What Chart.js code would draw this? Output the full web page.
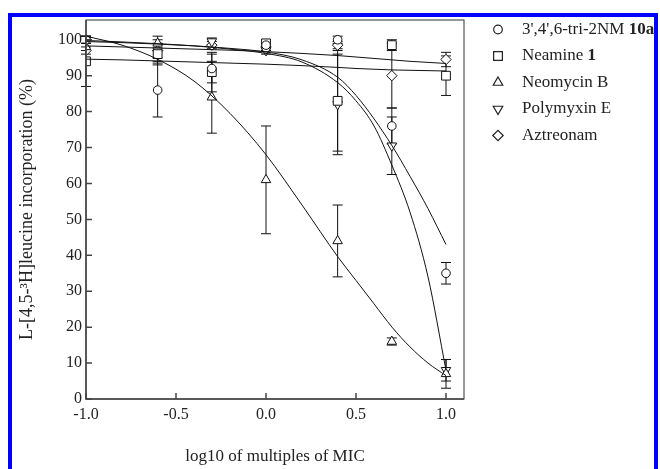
<!DOCTYPE html>
<html>
<head>
<meta charset="utf-8">
<script src="https://cdn.jsdelivr.net/npm/chart.js@4"></script>
<style>
  body { margin: 0; background: #fff; }
  #wrap { position: relative; width: 660px; height: 469px; overflow: hidden; }
  #frame { position: absolute; left: 8px; top: 13px; width: 642px; height: 500px; border: 4.5px solid #0000ff; pointer-events: none; }
</style>
</head>
<body>
<div id="wrap">
  <canvas id="chart" width="660" height="469"></canvas>
  <div id="frame"></div>
</div>
<script>
// 측정 농도 (log10 배수 MIC)
const doseX = [-1.0, -0.602, -0.301, 0.0, 0.398, 0.699, 1.0];

const seriesNames = ["3',4',6-tri-2NM ", "Neamine ", "Neomycin B", "Polymyxin E", "Aztreonam"];
const seriesBold = ["10a", "1", "", "", ""];

// 측정값 (%)
const tri2nm = [100, 86, 92, 98.5, 100, 76, 35];
const tri2nmErr = [1, 7.5, 4, 1, 1, 5, 3];
const neamine = [94, 96, 91, 99, 83, 98.5, 90];
const neamineErr = [7, 3, 5.5, 1, 14, 1.5, 5.5];
const neomycin = [98, 99, 84, 61, 44, 16, 7];
const neomycinErr = [1, 2, 10, 15, 10, 1, 4];
const polymyxin = [100, 97, 99.5, 97, 82, 70.5, 8];
const polymyxinErr = [1, 3, 1, 1, 14, 8, 3];
const aztreonam = [97, 97, 98.5, 98, 98.5, 90, 94.5];
const aztreonamErr = [1, 2, 1, 1, 1, 9, 2];

// 피팅 곡선
const fitX = [-1.0, -0.8, -0.6, -0.4, -0.2, 0.0, 0.2, 0.4, 0.5, 0.6, 0.7, 0.8, 0.9, 1.0];
const fitTri2nm = [99.5, 99.2, 98.8, 98.3, 97.6, 96.6, 94.4, 89.5, 84.5, 78, 70.5, 62, 53, 43];
const fitNeamine = [94.6, 94.4, 94.1, 93.8, 93.5, 93.2, 92.8, 92.3, 92.0, 91.8, 91.6, 91.5, 91.4, 91.3];
const fitNeomycin = [101, 98.5, 94.5, 88.5, 79.5, 68, 54, 39.5, 33, 26.5, 20, 14.5, 10, 6.5];
const fitPolymyxin = [99.8, 99.4, 98.9, 98.3, 97.4, 96.2, 93.8, 88, 83, 76, 65, 52, 34, 8];
const fitAztreonam = [98.3, 98.0, 97.7, 97.4, 97.1, 96.7, 96.2, 95.6, 95.2, 94.8, 94.4, 94.0, 93.7, 93.4];

const xTicks = [-1.0, -0.5, 0.0, 0.5, 1.0];
const yTicks = [0, 10, 20, 30, 40, 50, 60, 70, 80, 90, 100];

const serif = "'Liberation Serif', 'Times New Roman', serif";
const ink = '#222';

const pts = (ys) => doseX.map((x, i) => ({x: x, y: ys[i]}));
const fit = (ys) => fitX.map((x, i) => ({x: x, y: ys[i]}));

const markers = [
  {style: 'circle', r: 4.3, rot: 0},
  {style: 'rect', r: 6.2, rot: 0},
  {style: 'triangle', r: 5.5, rot: 0},
  {style: 'triangle', r: 5.5, rot: 180},
  {style: 'rectRot', r: 5.2, rot: 0}
];
const values = [tri2nm, neamine, neomycin, polymyxin, aztreonam];
const errors = [tri2nmErr, neamineErr, neomycinErr, polymyxinErr, aztreonamErr];
const fits = [fitTri2nm, fitNeamine, fitNeomycin, fitPolymyxin, fitAztreonam];

const datasets = [];
fits.forEach((f) => {
  datasets.push({
    data: fit(f), showLine: true, pointRadius: 0, borderColor: '#111',
    borderWidth: 1, cubicInterpolationMode: 'monotone', fill: false
  });
});
values.forEach((v, i) => {
  datasets.push({
    data: pts(v), showLine: false, pointStyle: markers[i].style,
    pointRadius: markers[i].r, rotation: markers[i].rot,
    pointBorderColor: '#111', pointBackgroundColor: '#fff', pointBorderWidth: 1
  });
});

// 에러바 + 안쪽 눈금 + 테두리 + 범례
const extras = {
  id: 'extras',
  beforeDatasetsDraw(chart) {
    const ctx = chart.ctx, xs = chart.scales.x, ys = chart.scales.y;
    ctx.save();
    ctx.strokeStyle = '#111';
    ctx.lineWidth = 1;
    errors.forEach((errs, i) => {
      values[i].forEach((v, j) => {
        const px = xs.getPixelForValue(doseX[j]);
        const lo = ys.getPixelForValue(v - errs[j]);
        const hi = ys.getPixelForValue(v + errs[j]);
        ctx.beginPath();
        ctx.moveTo(px, lo); ctx.lineTo(px, hi);
        ctx.moveTo(px - 5, lo); ctx.lineTo(px + 5, lo);
        ctx.moveTo(px - 5, hi); ctx.lineTo(px + 5, hi);
        ctx.stroke();
      });
    });
    ctx.restore();
  },
  afterDraw(chart) {
    const ctx = chart.ctx, a = chart.chartArea, xs = chart.scales.x, ys = chart.scales.y;
    ctx.save();
    ctx.strokeStyle = '#333';
    ctx.lineWidth = 1;
    ctx.strokeRect(a.left, a.top, a.right - a.left, a.bottom - a.top);
    ctx.lineWidth = 1.5;
    ctx.strokeStyle = '#444';
    ctx.beginPath();
    ctx.moveTo(a.left, a.top); ctx.lineTo(a.left, a.bottom); ctx.lineTo(a.right, a.bottom);
    ctx.stroke();
    ctx.beginPath();
    yTicks.forEach((t) => {
      const py = ys.getPixelForValue(t);
      ctx.moveTo(a.left, py); ctx.lineTo(a.left + 6, py);
    });
    xTicks.forEach((t) => {
      const px = xs.getPixelForValue(t);
      ctx.moveTo(px, a.bottom); ctx.lineTo(px, a.bottom - 6);
    });
    ctx.stroke();

    // 범례
    ctx.textBaseline = 'middle';
    seriesNames.forEach((name, i) => {
      const ly = 29.5 + i * 26.5;
      ctx.strokeStyle = '#222';
      ctx.fillStyle = '#fff';
      ctx.lineWidth = 1.2;
      Chart.helpers.drawPoint(ctx, {
        pointStyle: markers[i].style, radius: markers[i].r, rotation: markers[i].rot, borderWidth: 1.2
      }, 498, ly);
      ctx.fillStyle = ink;
      ctx.font = '17px ' + serif;
      ctx.fillText(name, 522, ly);
      if (seriesBold[i]) {
        const w = ctx.measureText(name).width;
        ctx.font = 'bold 17px ' + serif;
        ctx.fillText(seriesBold[i], 522 + w, ly);
      }
    });
    ctx.restore();
  }
};

new Chart(document.getElementById('chart'), {
  type: 'scatter',
  data: {datasets: datasets},
  options: {
    responsive: false,
    devicePixelRatio: 1,
    animation: false,
    layout: {padding: {left: 0, right: 196, top: 20, bottom: 0}},
    plugins: {legend: {display: false}, tooltip: {enabled: false}},
    scales: {
      x: {
        type: 'linear', min: -1.0, max: 1.1,
        afterBuildTicks: (s) => { s.ticks = xTicks.map((v) => ({value: v})); },
        afterFit: (s) => { s.height = 70; },
        grid: {display: false, drawTicks: false},
        border: {display: false},
        ticks: {
          padding: 6, color: ink, font: {family: serif, size: 16},
          maxRotation: 0, autoSkip: false,
          callback: (v) => Number(v).toFixed(1)
        },
        title: {
          display: true, text: 'log10 of multiples of MIC', color: ink,
          font: {family: serif, size: 17}, padding: {top: 0, bottom: 2}
        }
      },
      y: {
        type: 'linear', min: 0, max: 105.5,
        afterBuildTicks: (s) => { s.ticks = yTicks.map((v) => ({value: v})); },
        afterFit: (s) => { s.width = 86; },
        grid: {display: false, drawTicks: false},
        border: {display: false},
        ticks: {padding: 4, color: ink, font: {family: serif, size: 16}, autoSkip: false},
        title: {
          display: true, text: 'L-[4,5-³H]leucine incorporation (%)', color: ink,
          font: {family: serif, size: 18}, padding: {top: 16, bottom: 0}
        }
      }
    }
  },
  plugins: [extras]
});
</script>
</body>
</html>
